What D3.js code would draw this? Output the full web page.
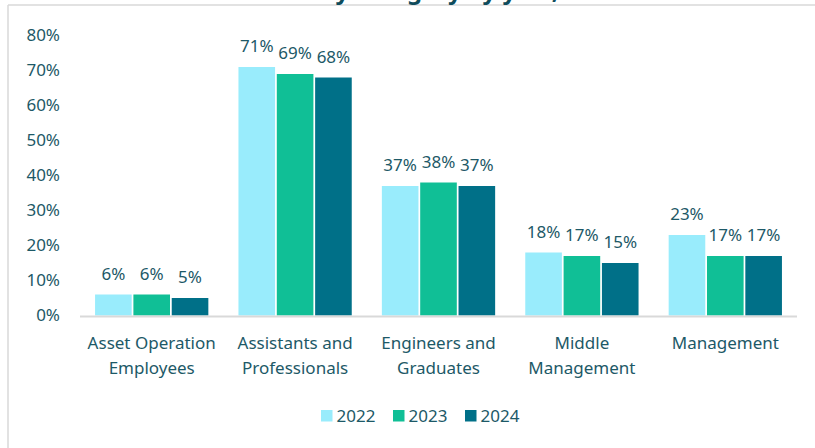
<!DOCTYPE html>
<html>
<head>
<meta charset="utf-8">
<script src="https://cdn.jsdelivr.net/npm/d3@7"></script>
<style>
  html, body { margin: 0; padding: 0; background: #ffffff; }
  svg { display: block; font-family: "Noto Sans", "Open Sans", sans-serif; }
</style>
</head>
<body>
<svg id="chart" width="815" height="448"></svg>
<script>
// Share of employees per category, by year (%)
const categories = [
  "Asset Operation\nEmployees",
  "Assistants and\nProfessionals",
  "Engineers and\nGraduates",
  "Middle\nManagement",
  "Management"
];
const years = ["2022", "2023", "2024"];
const share2022 = [6, 71, 37, 18, 23];
const share2023 = [6, 69, 38, 17, 17];
const share2024 = [5, 68, 37, 15, 17];
const yTicks = [0, 10, 20, 30, 40, 50, 60, 70, 80];
const yearColors = ["#99ecfc", "#10bf96", "#007088"];
const titleText = "Headcount by category by year, %";

const seriesByYear = [share2022, share2023, share2024];
const rows = categories.map((c, i) => ({
  category: c,
  values: years.map((y, j) => ({ year: y, value: seriesByYear[j][i] }))
}));

const textColor = "#1d5967";
const gridGray = "#d9d9d9";
const fontFamily = "'Noto Sans', 'Open Sans', sans-serif";
const fontSize = 17;
const svg = d3.select("#chart");

// outer frame of the chart area
svg.append("line").attr("x1", 8).attr("x2", 815).attr("y1", 5).attr("y2", 5)
  .attr("stroke", gridGray).attr("stroke-width", 1.5);
svg.append("line").attr("x1", 8).attr("x2", 8).attr("y1", 5).attr("y2", 448)
  .attr("stroke", gridGray).attr("stroke-width", 1.5);

// title sits above the frame, mostly off the top edge
svg.append("text")
  .attr("x", 385).attr("y", -1)
  .attr("text-anchor", "middle")
  .attr("font-size", 24).attr("font-weight", 700)
  .attr("font-family", fontFamily)
  .attr("fill", "#0f4c5c")
  .text(titleText);

const plotLeft = 80, plotRight = 797;
const y = d3.scaleLinear().domain([0, 80]).range([315.5, 35.5]);
const x0 = d3.scaleBand().domain(categories).range([plotLeft, plotRight])
  .paddingInner(0.21).paddingOuter(0.105);
const x1 = d3.scaleBand().domain(years).range([0, x0.bandwidth()])
  .paddingInner(0.045).paddingOuter(0);
const color = d3.scaleOrdinal().domain(years).range(yearColors);

// y axis labels
const yAxis = d3.axisLeft(y).tickValues(yTicks).tickSize(0).tickPadding(0)
  .tickFormat(d => d + "%");
const yG = svg.append("g").attr("transform", "translate(60,0)").call(yAxis);
yG.select(".domain").remove();
yG.selectAll("text").attr("fill", textColor).attr("font-size", fontSize)
  .attr("font-family", fontFamily);

// bars
const groups = svg.append("g").selectAll("g").data(rows).join("g")
  .attr("transform", d => `translate(${x0(d.category)},0)`);

groups.selectAll("rect").data(d => d.values).join("rect")
  .attr("x", d => x1(d.year))
  .attr("y", d => y(d.value))
  .attr("width", x1.bandwidth())
  .attr("height", d => y(0) - y(d.value))
  .attr("fill", d => color(d.year));

// value labels above bars
groups.selectAll("text.val").data(d => d.values).join("text")
  .attr("class", "val")
  .attr("x", d => x1(d.year) + x1.bandwidth() / 2)
  .attr("y", d => y(d.value) - 15)
  .attr("text-anchor", "middle")
  .attr("font-size", fontSize)
  .attr("font-family", fontFamily)
  .attr("fill", textColor)
  .text(d => d.value + "%");

// baseline
svg.append("line").attr("x1", plotLeft).attr("x2", plotRight)
  .attr("y1", y(0) + 1).attr("y2", y(0) + 1)
  .attr("stroke", gridGray).attr("stroke-width", 2);

// category labels (two lines where needed)
const xAxis = d3.axisBottom(x0).tickSize(0).tickFormat("");
const xG = svg.append("g").attr("transform", `translate(0,${y(0)})`).call(xAxis);
xG.select(".domain").remove();
xG.selectAll(".tick").each(function(d) {
  const t = d3.select(this).append("text")
    .attr("text-anchor", "middle")
    .attr("font-size", fontSize)
    .attr("font-family", fontFamily)
    .attr("fill", textColor);
  d.split("\n").forEach((line, i) => {
    t.append("tspan").attr("x", 0).attr("y", 33 + i * 25).text(line);
  });
});

// legend
const legend = svg.append("g").attr("transform", "translate(321,410)");
const item = legend.selectAll("g").data(years).join("g")
  .attr("transform", (d, i) => `translate(${i * 72},0)`);
item.append("rect").attr("width", 11.5).attr("height", 11.5)
  .attr("fill", d => color(d));
item.append("text").attr("x", 15.5).attr("y", 12)
  .attr("font-size", fontSize).attr("font-family", fontFamily)
  .attr("fill", textColor).text(d => d);
</script>
</body>
</html>
